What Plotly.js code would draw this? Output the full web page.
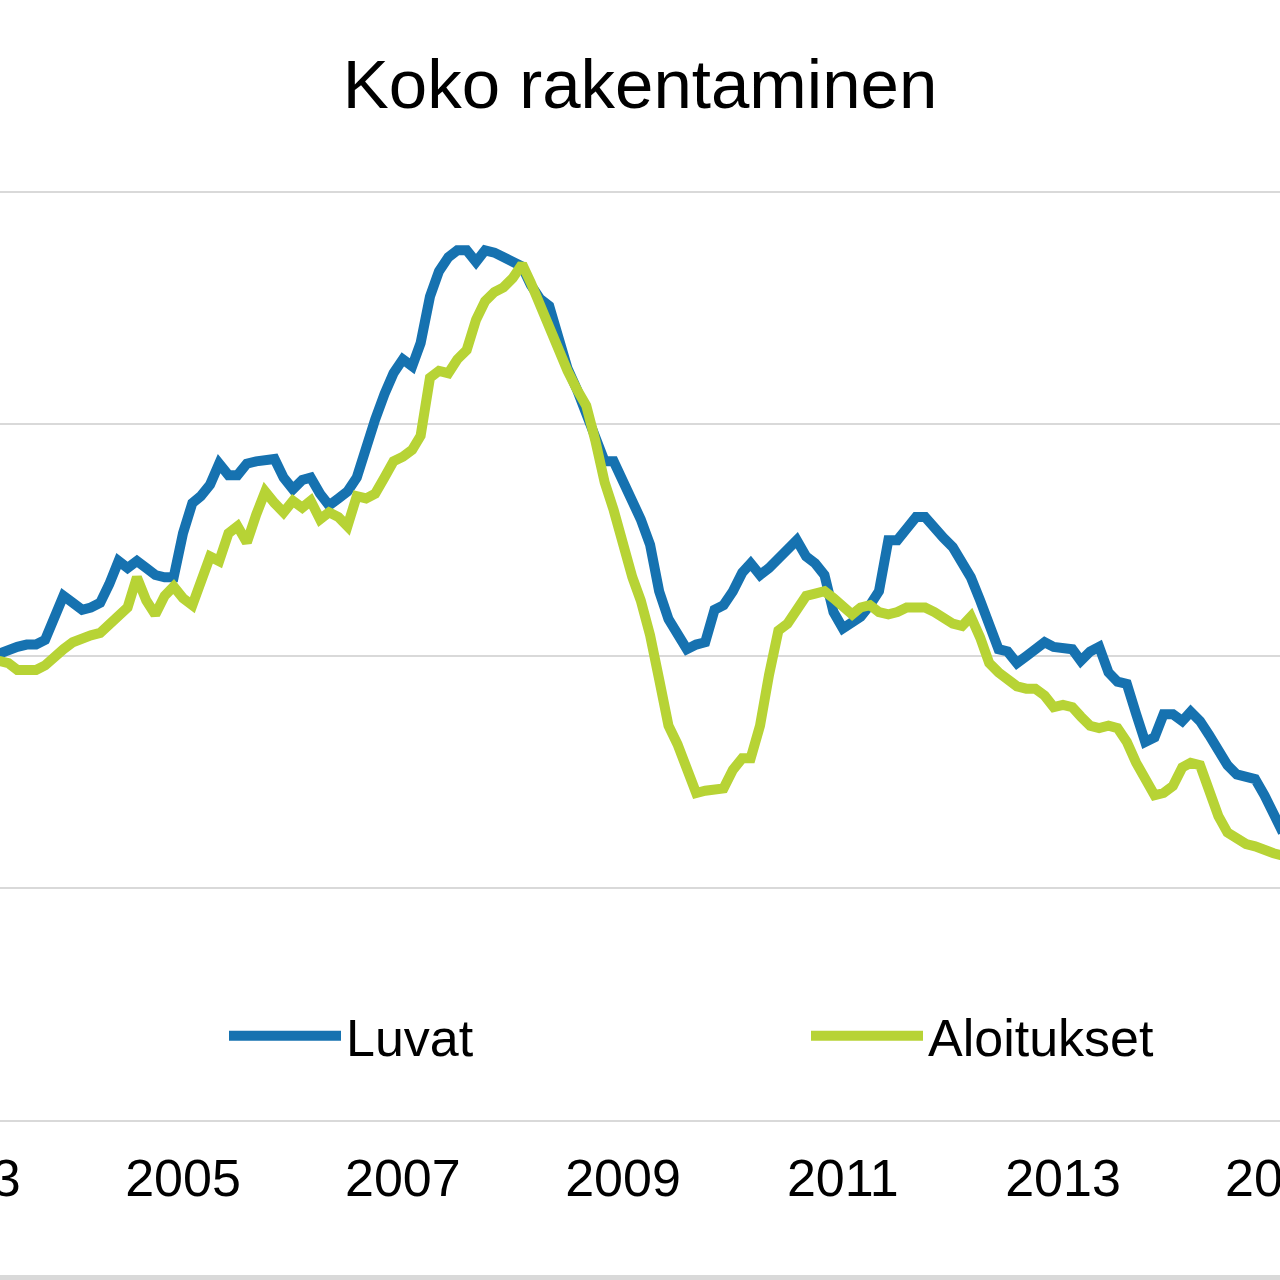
<!DOCTYPE html>
<html>
<head>
<meta charset="utf-8">
<script src="https://cdn.plot.ly/plotly-3.0.1.min.js"></script>
<style>
  html, body { margin: 0; padding: 0; width: 1280px; height: 1280px; overflow: hidden; background: #ffffff; }
  #chart { position: absolute; left: -200px; top: 0px; width: 1680px; height: 1280px; }
</style>
</head>
<body>
<div id="chart"></div>
<script>
// Monthly series, 12-month sums, starting May 2003
const START_YEAR = 2003;
const START_MONTH = 5;
const seriesNames = ["Luvat", "Aloitukset"];
const chartTitle = "Koko rakentaminen";

const luvat = [
  40.1, 40.3, 40.4, 40.5, 40.5, 40.7, 41.6, 42.6,
  42.3, 42.0, 42.1, 42.3, 43.1, 44.1, 43.8, 44.1, 43.8, 43.5, 43.4, 43.4,
  45.3, 46.6, 46.9, 47.4, 48.3, 47.8, 47.8, 48.3, 48.4, 48.4, 48.5, 47.7,
  47.2, 47.6, 47.7, 47.0, 46.5, 46.8, 47.1, 47.7, 49.1, 50.2, 51.3, 52.2,
  52.8, 52.5, 53.5, 55.5, 56.6, 57.2, 57.5, 57.5, 57.0, 57.5, 57.4, 57.2,
  57.1, 56.8, 56.0, 55.4, 55.1, 53.6, 52.4, 51.5, 50.5, 49.5, 48.4, 48.4,
  47.6, 46.6, 45.9, 44.8, 42.8, 41.6, 41.0, 40.3, 40.5, 40.6, 42.0, 42.2,
  42.8, 43.6, 44.0, 43.5, 43.8, 44.2, 44.5, 45.0, 44.3, 44.0, 43.5, 41.9,
  41.2, 41.4, 41.7, 42.2, 42.8, 45.0, 45.0, 45.5, 46.0, 46.0, 45.5, 45.1,
  44.7, 44.1, 43.4, 42.4, 41.5, 40.3, 40.2, 39.7, 40.0, 40.3, 40.6, 40.4,
  40.3, 40.3, 39.8, 40.2, 40.4, 39.3, 38.9, 38.8, 37.5, 36.3, 36.5, 37.5,
  37.5, 37.2, 37.6, 37.2, 36.6, 36.0, 35.3, 34.9, 34.8, 34.7, 34.0, 33.1,
  32.4
];
const aloitukset = [
  39.8, 39.7, 39.4, 39.4, 39.4, 39.6, 40.0, 40.3,
  40.6, 40.8, 40.9, 41.0, 41.4, 41.7, 42.1, 43.4, 42.4, 41.8, 42.6, 43.0,
  42.5, 42.2, 43.3, 44.3, 44.1, 45.3, 45.6, 44.9, 46.1, 47.1, 46.6, 46.2,
  46.7, 46.4, 46.7, 45.9, 46.2, 46.0, 45.6, 46.9, 46.8, 47.0, 47.7, 48.4,
  48.6, 48.9, 49.5, 52.0, 52.3, 52.2, 52.8, 53.2, 54.5, 55.3, 55.7, 55.9,
  56.3, 56.9, 56.1, 55.1, 54.4, 53.4, 52.3, 51.5, 50.8, 49.3, 47.5, 46.3,
  44.8, 43.4, 42.4, 40.9, 39.0, 37.0, 36.2, 35.1, 34.1, 34.2, 34.3, 34.3,
  35.1, 35.6, 35.6, 37.0, 39.2, 41.1, 41.4, 42.1, 42.6, 42.7, 42.8, 42.5,
  42.1, 41.8, 42.1, 42.2, 41.9, 41.8, 41.9, 42.1, 42.1, 42.1, 41.9, 41.6,
  41.4, 41.3, 41.7, 40.8, 39.7, 39.3, 39.0, 38.7, 38.6, 38.6, 38.3, 37.8,
  37.9, 37.8, 37.4, 37.0, 36.9, 37.0, 36.9, 36.3, 35.4, 34.7, 34.0, 34.1,
  34.4, 35.2, 35.4, 35.3, 34.3, 33.1, 32.4, 32.1, 31.9, 31.8, 31.6, 31.5,
  31.4
];
const yearTickVals = ["2003-01-01", "2005-01-01", "2007-01-01", "2009-01-01", "2011-01-01", "2013-01-01", "2015-01-01"];
const yearTickText = ["2003", "2005", "2007", "2009", "2011", "2013", "2015"];

const months = luvat.map((_, i) => {
  const m = START_MONTH - 1 + i;
  const y = START_YEAR + Math.floor(m / 12);
  const mm = (m % 12) + 1;
  return y + "-" + String(mm).padStart(2, "0") + "-01";
});

// axis window (layout only)
const DAY = 864e5;
const t2005 = Date.UTC(2005, 0, 1), t2013 = Date.UTC(2013, 0, 1);
const pxPerDay = 880 / ((t2013 - t2005) / DAY);
const xRange = [t2005 - (333 / pxPerDay) * DAY, t2005 + (1247 / pxPerDay) * DAY];

const FONT = "Liberation Sans, Arial, Helvetica, sans-serif";
const BLUE = "#1672b0";
const GREEN = "#b7d335";

const traces = [
  { x: months, y: luvat, name: seriesNames[0], type: "scatter", mode: "lines",
    line: { color: BLUE, width: 10 } },
  { x: months, y: aloitukset, name: seriesNames[1], type: "scatter", mode: "lines",
    line: { color: GREEN, width: 10 } }
];

const layout = {
  width: 1680, height: 1280,
  margin: { l: 50, r: 50, t: 190, b: 160, pad: 0 },
  paper_bgcolor: "#ffffff", plot_bgcolor: "#ffffff",
  font: { family: FONT, color: "#000000" },
  title: { text: chartTitle, font: { family: FONT, size: 69, color: "#000000" },
           x: 0.5, xref: "paper", xanchor: "center", y: 1 - 84 / 1280, yref: "container", yanchor: "middle" },
  xaxis: {
    type: "date", range: xRange, autorange: false,
    tickmode: "array", tickvals: yearTickVals, ticktext: yearTickText,
    ticks: "", showgrid: false, zeroline: false,
    showline: true, linecolor: "#d9d9d9", linewidth: 2,
    tickfont: { family: FONT, size: 52, color: "#000000" },
    ticklabelstandoff: 12,
    automargin: false
  },
  yaxis: {
    range: [20, 60.1], autorange: false, dtick: 10, tick0: 0,
    showgrid: true, gridcolor: "#d9d9d9", gridwidth: 2,
    zeroline: false, showline: false, showticklabels: false, ticks: "",
    automargin: false
  },
  showlegend: true,
  legend: {
    orientation: "h", x: (224 + 150) / 1580, xanchor: "left", y: (1120 - 1036) / 930, yanchor: "middle",
    font: { family: FONT, size: 52, color: "#000000" },
    itemwidth: 112, entrywidth: 455, entrywidthmode: "pixels",
    bgcolor: "rgba(0,0,0,0)", borderwidth: 0, traceorder: "normal"
  },
  shapes: [
    { type: "line", xref: "paper", yref: "paper", x0: -0.2, x1: 1.2,
      y0: -(1277.5 - 1120) / 930, y1: -(1277.5 - 1120) / 930,
      line: { color: "#d9d9d9", width: 5 } }
  ]
};

Plotly.newPlot("chart", traces, layout, { staticPlot: true, displayModeBar: false });
</script>
</body>
</html>
